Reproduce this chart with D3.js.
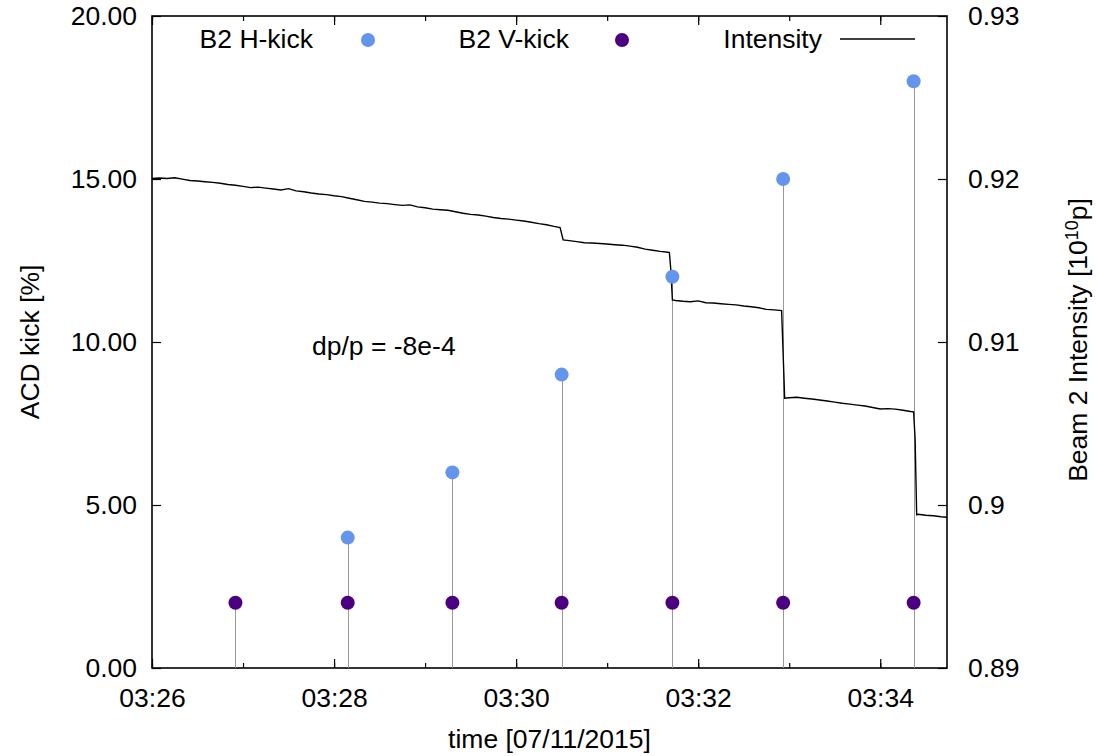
<!DOCTYPE html>
<html>
<head>
<meta charset="utf-8">
<script src="https://cdn.jsdelivr.net/npm/d3@7"></script>
<style>
  body { margin: 0; background: #fff; }
  svg text { font-family: "Liberation Sans", Arial, sans-serif; font-size: 26.5px; fill: #000; }
</style>
</head>
<body>
<svg id="chart" width="1099" height="756"></svg>
<script>
// kick times, read from the stems
const vKickTimes = ["03:26:55", "03:28:09", "03:29:18", "03:30:30", "03:31:43", "03:32:56", "03:34:22"];
const vKickValues = [2, 2, 2, 2, 2, 2, 2];
const hKickTimes = ["03:28:09", "03:29:18", "03:30:30", "03:31:43", "03:32:56", "03:34:22"];
const hKickValues = [4, 6, 9, 12, 15, 18];

// beam 2 intensity, seconds after 03:26:00
const intensitySeconds = [0, 5, 10, 15, 20, 25, 30, 35, 40, 45, 50, 55, 60, 65, 70, 75, 80, 85, 90, 95,
  100, 105, 110, 115, 120, 125, 130, 135, 140, 145, 150, 155, 160, 165, 170, 175, 180, 185, 190, 195,
  200, 205, 210, 215, 220, 225, 230, 235, 240, 245, 250, 255, 260, 265, 269, 271, 275, 280, 285, 290,
  295, 300, 305, 310, 315, 320, 325, 330, 335, 340, 341, 342, 343, 345, 350, 355, 360, 365, 370, 375,
  380, 385, 390, 395, 400, 405, 410, 415, 416, 417, 420, 425, 430, 435, 440, 445, 450, 455, 460, 465,
  470, 475, 480, 485, 490, 495, 500, 502, 503, 504, 505, 510, 515, 520, 524];
const intensityValues = [0.92004, 0.92006, 0.92003, 0.92008, 0.91999, 0.91991, 0.91988, 0.91983, 0.91979, 0.91974,
  0.91966, 0.91962, 0.91955, 0.91947, 0.91950, 0.91944, 0.91939, 0.91933, 0.91941, 0.91927,
  0.91922, 0.91914, 0.91908, 0.91904, 0.91897, 0.91892, 0.91882, 0.91873, 0.91863, 0.91858,
  0.91852, 0.91849, 0.91843, 0.91838, 0.91841, 0.91829, 0.91824, 0.91815, 0.91811, 0.91808,
  0.91799, 0.91790, 0.91783, 0.91779, 0.91772, 0.91764, 0.91758, 0.91754, 0.91748, 0.91742,
  0.91735, 0.91726, 0.91719, 0.91709, 0.91702, 0.91626, 0.91622, 0.91616, 0.91609, 0.91607,
  0.91604, 0.91601, 0.91597, 0.91594, 0.91588, 0.91581, 0.91570, 0.91563, 0.91556, 0.91551,
  0.91549, 0.91440, 0.91258, 0.91255, 0.91250, 0.91247, 0.91252, 0.91241, 0.91239, 0.91235,
  0.91231, 0.91228, 0.91221, 0.91216, 0.91210, 0.91200, 0.91197, 0.91193, 0.90926, 0.90655,
  0.90658, 0.90661, 0.90655, 0.90650, 0.90644, 0.90638, 0.90631, 0.90624, 0.90619, 0.90613,
  0.90607, 0.90598, 0.90589, 0.90591, 0.90588, 0.90581, 0.90574, 0.90572, 0.90400, 0.89940,
  0.89943, 0.89937, 0.89934, 0.89928, 0.89925];

// axes
const timeStart = "03:26:00";
const timeEnd = "03:34:44";
const leftTicks = [0, 5, 10, 15, 20];
const rightTicks = [0.89, 0.90, 0.91, 0.92, 0.93];
const rightTickLabels = ["0.89", "0.9", "0.91", "0.92", "0.93"];
const legendLabels = ["B2 H-kick", "B2 V-kick", "Intensity"];

class KickChart {
  constructor() {
    this.svg = d3.select('#chart');
    this.left = 152;
    this.right = 947;
    this.top = 16;
    this.bottom = 668;
    this.parse = d3.timeParse('%H:%M:%S');

    this.x = d3.scaleTime()
      .domain([this.parse(timeStart), this.parse(timeEnd)])
      .range([this.left, this.right]);
    this.yL = d3.scaleLinear().domain([0, 20]).range([this.bottom, this.top]);
    this.yR = d3.scaleLinear().domain([0.89, 0.93]).range([this.bottom, this.top]);
  }

  drawAxes() {
    let svg = this.svg;
    let t0 = this.parse(timeStart);
    let majors = d3.timeMinute.every(2).range(t0, this.parse(timeEnd));
    let minors = d3.timeMinute.every(1).range(t0, this.parse(timeEnd));

    // bottom major ticks with labels, minor ticks without
    svg.append('g')
      .attr('transform', `translate(0,${this.bottom})`)
      .call(d3.axisBottom(this.x).tickValues(majors).tickSize(-9).tickPadding(20)
        .tickFormat(d3.timeFormat('%H:%M')))
      .call(g => g.select('.domain').remove())
      .call(g => g.selectAll('text').attr('dy', '0.71em').style('font-size', '26.5px'))
    ;
    svg.append('g')
      .attr('transform', `translate(0,${this.bottom})`)
      .call(d3.axisBottom(this.x).tickValues(minors).tickSize(-5).tickFormat(''))
      .call(g => g.select('.domain').remove())
    ;
    // mirrored on top
    svg.append('g')
      .attr('transform', `translate(0,${this.top})`)
      .call(d3.axisTop(this.x).tickValues(majors).tickSize(-9).tickFormat(''))
      .call(g => g.select('.domain').remove())
    ;
    svg.append('g')
      .attr('transform', `translate(0,${this.top})`)
      .call(d3.axisTop(this.x).tickValues(minors).tickSize(-5).tickFormat(''))
      .call(g => g.select('.domain').remove())
    ;

    svg.append('g')
      .attr('transform', `translate(${this.left},0)`)
      .call(d3.axisLeft(this.yL).tickValues(leftTicks).tickSize(-9).tickPadding(15)
        .tickFormat(d3.format('.2f')))
      .call(g => g.select('.domain').remove())
      .call(g => g.selectAll('text').style('font-size', '26.5px'))
    ;
    svg.append('g')
      .attr('transform', `translate(${this.right},0)`)
      .call(d3.axisRight(this.yR).tickValues(rightTicks).tickSize(-9).tickPadding(21)
        .tickFormat((d, i) => rightTickLabels[i]))
      .call(g => g.select('.domain').remove())
      .call(g => g.selectAll('text').style('font-size', '26.5px'))
    ;
    svg.selectAll('.tick line').attr('stroke', '#000').attr('stroke-width', 1.2);

    // frame
    svg.append('rect')
      .attr('x', this.left)
      .attr('y', this.top)
      .attr('width', this.right - this.left)
      .attr('height', this.bottom - this.top)
      .attr('fill', 'none')
      .attr('stroke', '#000')
      .attr('stroke-width', 1.6)
    ;

    // titles
    svg.append('text')
      .attr('x', (this.left + this.right) / 2)
      .attr('y', 748)
      .attr('text-anchor', 'middle')
      .text('time [07/11/2015]');

    svg.append('text')
      .attr('transform', 'translate(39,342) rotate(-90)')
      .attr('text-anchor', 'middle')
      .text('ACD kick [%]');

    let rt = svg.append('text')
      .attr('transform', 'translate(1087,340) rotate(-90)')
      .attr('text-anchor', 'middle');
    rt.append('tspan').text('Beam 2 Intensity [10');
    rt.append('tspan').attr('dy', '-0.5em').style('font-size', '18px').text('10');
    rt.append('tspan').attr('dy', '0.35em').text('p]');

    svg.append('text')
      .attr('x', 312)
      .attr('y', 355)
      .text('dp/p = -8e-4');
  }

  drawData() {
    let svg = this.svg;
    let parse = this.parse;
    let t0 = parse(timeStart);

    // stems from zero up to the highest kick at each time
    let stemTop = new Map();
    vKickTimes.forEach((t, i) => stemTop.set(t, vKickValues[i]));
    hKickTimes.forEach((t, i) => stemTop.set(t, Math.max(stemTop.get(t) || 0, hKickValues[i])));

    svg.append('g').selectAll('line')
      .data(Array.from(stemTop))
      .enter().append('line')
      .attr('x1', d => Math.round(this.x(parse(d[0]))) + 0.5)
      .attr('x2', d => Math.round(this.x(parse(d[0]))) + 0.5)
      .attr('y1', this.yL(0))
      .attr('y2', d => this.yL(d[1]))
      .attr('stroke', '#999')
      .attr('stroke-width', 1)
    ;

    let line = d3.line()
      .x(d => this.x(d3.timeSecond.offset(t0, d[0])))
      .y(d => this.yR(d[1]));
    svg.append('path')
      .datum(intensitySeconds.map((s, i) => [s, intensityValues[i]]))
      .attr('d', line)
      .attr('fill', 'none')
      .attr('stroke', '#000')
      .attr('stroke-width', 1.4)
    ;

    svg.append('g').selectAll('circle')
      .data(hKickTimes)
      .enter().append('circle')
      .attr('cx', d => this.x(parse(d)))
      .attr('cy', (d, i) => this.yL(hKickValues[i]))
      .attr('r', 7)
      .attr('fill', '#6495ed')
    ;
    svg.append('g').selectAll('circle')
      .data(vKickTimes)
      .enter().append('circle')
      .attr('cx', d => this.x(parse(d)))
      .attr('cy', (d, i) => this.yL(vKickValues[i]))
      .attr('r', 7)
      .attr('fill', '#4b0082')
    ;
  }

  drawLegend() {
    let svg = this.svg;
    let y = 40;
    svg.append('text').attr('x', 313).attr('y', 48).attr('text-anchor', 'end').text(legendLabels[0]);
    svg.append('circle').attr('cx', 368).attr('cy', y).attr('r', 7).attr('fill', '#6495ed');
    svg.append('text').attr('x', 569).attr('y', 48).attr('text-anchor', 'end').text(legendLabels[1]);
    svg.append('circle').attr('cx', 622).attr('cy', y).attr('r', 7).attr('fill', '#4b0082');
    svg.append('text').attr('x', 822).attr('y', 48).attr('text-anchor', 'end').text(legendLabels[2]);
    svg.append('line')
      .attr('x1', 840).attr('x2', 915)
      .attr('y1', 39).attr('y2', 39)
      .attr('stroke', '#000')
      .attr('stroke-width', 1.4)
    ;
  }
}

let chart = new KickChart();
chart.drawAxes();
chart.drawData();
chart.drawLegend();
</script>
</body>
</html>
